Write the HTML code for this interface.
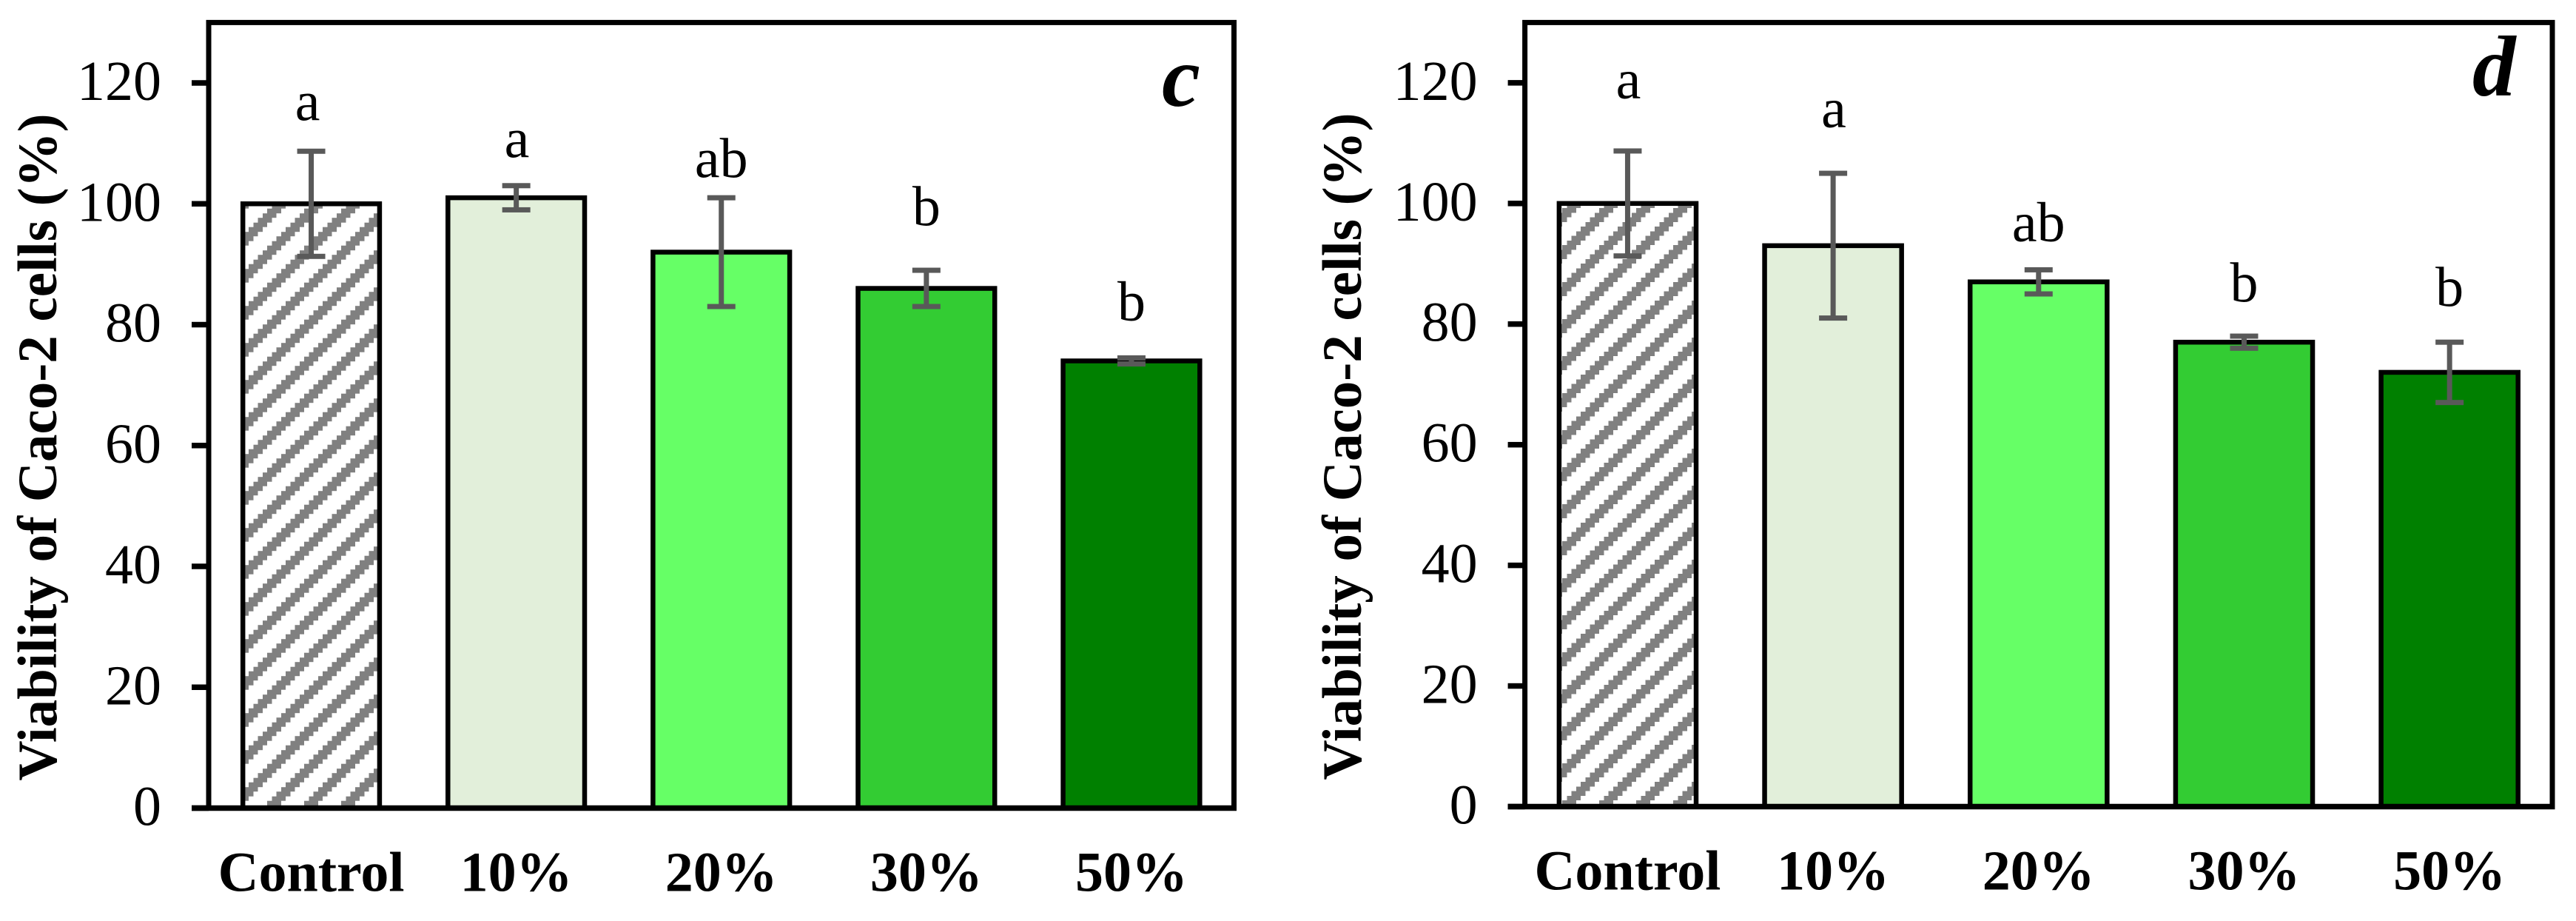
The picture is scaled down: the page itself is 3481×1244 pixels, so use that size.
<!DOCTYPE html>
<html lang="en">
<head>
<meta charset="utf-8">
<title>Viability of Caco-2 cells</title>
<style>
html,body{margin:0;padding:0;background:#fff;width:3481px;height:1244px;overflow:hidden}
svg{display:block}
text{font-family:"Liberation Serif","Times New Roman",serif;fill:#000}
</style>
</head>
<body>
<svg id="chart" xmlns="http://www.w3.org/2000/svg" width="3481" height="1244" viewBox="0 0 3481 1244">
<rect x="0" y="0" width="3481" height="1244" fill="#ffffff"/>
<defs id="defs"></defs>
</svg>
<script>
var categories = ['Control', '10%', '20%', '30%', '50%'];
var tickLabels = [0, 20, 40, 60, 80, 100, 120];
var axisMax = 130;
var axisTitle = 'Viability of Caco-2 cells (%)';

var panelCValues = [100, 101, 92, 86, 74];
var panelCErrors = [8.7, 2, 9, 3, 0.5];
var panelCLetters = ['a', 'a', 'ab', 'b', 'b'];
var panelCLetterHeights = [113.8, 107.7, 104.4, 96.4, 80.7];
var panelCLetterShifts = [-0.018, 0.003, 0, 0, 0];

var panelDValues = [100, 93, 87, 77, 72];
var panelDErrors = [8.7, 12, 2, 1, 5];
var panelDLetters = ['a', 'a', 'ab', 'b', 'b'];
var panelDLetterHeights = [117.4, 112.6, 93.7, 83.7, 83.0];
var panelDLetterShifts = [0.004, 0.003, 0, 0, 0];

var barFills = ['url(#hatch)', '#E2EFDA', '#66FF66', '#33CC33', '#008000'];

var svg = document.getElementById('chart');
var defs = document.getElementById('defs');
var NS = 'http://www.w3.org/2000/svg';

function mk(tag, attrs, parent) {
  var el = document.createElementNS(NS, tag);
  for (var k in attrs) el.setAttribute(k, attrs[k]);
  (parent || svg).appendChild(el);
  return el;
}

function makeHatch(id, ox, oy) {
  var cell = 6.25;
  var p = mk('pattern', {id: id, patternUnits: 'userSpaceOnUse', x: ox, y: oy, width: 50, height: 50}, defs);
  mk('rect', {x: 0, y: 0, width: 50, height: 50, fill: '#ffffff'}, p);
  for (var r = 0; r < 8; r++) {
    for (var c = 0; c < 3; c++) {
      var col = (8 - r + c) % 8;
      mk('rect', {x: col * cell, y: r * cell, width: cell, height: cell, fill: '#808080', 'shape-rendering': 'crispEdges'}, p);
    }
  }
}
makeHatch('hatch-c', 361, 281.7);
makeHatch('hatch-d', 2111, 281);

function drawPanel(key, left, right, top, zero, titleX, titleY, markX, markY, markText, values, errors, letters, letterHeights, letterShifts) {
  var g = mk('g', {});
  
  

  var ppu = (zero - top) / axisMax;
  var band = (right - left) / categories.length;
  function yScale(v) { return zero - v * ppu; }
  function xCenter(i) { return left + band * (i + 0.5); }
  var barWidth = band / 1.5;

  // bars
  values.forEach(function (v, i) {
    var fill = barFills[i] === 'url(#hatch)' ? 'url(#hatch-' + key + ')' : barFills[i];
    var bar = mk('rect', {
      x: xCenter(i) - barWidth / 2, y: yScale(v), width: barWidth, height: zero - yScale(v),
      fill: fill, stroke: '#000', 'stroke-width': 6.5
    }, g);
    
    
  });

  // frame
  var frame = mk('rect', {x: left, y: top, width: right - left, height: zero - top, fill: 'none', stroke: '#000', 'stroke-width': 7}, g);
  
  

  // y ticks and labels
  tickLabels.forEach(function (t) {
    var tick = mk('rect', {x: left - 23, y: yScale(t) - 3.75, width: 23, height: 7.5, fill: '#000'}, g);
    
    
    var lab = mk('text', {x: left - 64, y: yScale(t) + 23, 'text-anchor': 'end', 'font-size': 76}, g);
    lab.textContent = String(t);
    
    
  });

  // x axis line
  var base = mk('rect', {x: left - 23, y: zero - 3.75, width: right - left + 26.5, height: 7.5, fill: '#000'}, g);
  
  

  // error bars
  values.forEach(function (v, i) {
    var cx = xCenter(i);
    var hi = yScale(v + errors[i]);
    var lo = yScale(v - errors[i]);
    var eg = mk('g', {fill: '#595959'}, g);
    
    
    mk('rect', {x: cx - 3.5, y: hi, width: 7, height: lo - hi}, eg);
    mk('rect', {x: cx - 19, y: hi - 3.5, width: 38, height: 7}, eg);
    mk('rect', {x: cx - 19, y: lo - 3.5, width: 38, height: 7}, eg);
  });

  // significance letters
  letters.forEach(function (s, i) {
    var t = mk('text', {x: xCenter(i + letterShifts[i]), y: yScale(letterHeights[i]), 'text-anchor': 'middle', 'font-size': 76}, g);
    t.textContent = s;
    
    
  });

  // category labels
  categories.forEach(function (c, i) {
    var t = mk('text', {x: xCenter(i), y: zero + 112, 'text-anchor': 'middle', 'font-size': 76, 'font-weight': 'bold'}, g);
    t.textContent = c;
    
    
  });

  // y axis title
  var title = mk('text', {transform: 'translate(' + titleX + ',' + titleY + ') rotate(-90)', 'text-anchor': 'middle', 'font-size': 75, 'font-weight': 'bold'}, g);
  title.textContent = axisTitle;
  
  

  // panel letter
  var mark = mk('text', {x: markX, y: markY, 'font-size': 117, 'font-weight': 'bold', 'font-style': 'italic'}, g);
  mark.textContent = markText;
  
  
}

drawPanel('c', 282, 1667.5, 30.4, 1091.5, 76, 604, 1570, 143, 'c', panelCValues, panelCErrors, panelCLetters, panelCLetterHeights, panelCLetterShifts);
drawPanel('d', 2060.6, 3449, 30.4, 1089.5, 1839, 603, 3341, 129, 'd', panelDValues, panelDErrors, panelDLetters, panelDLetterHeights, panelDLetterShifts);
</script>
</body>
</html>
